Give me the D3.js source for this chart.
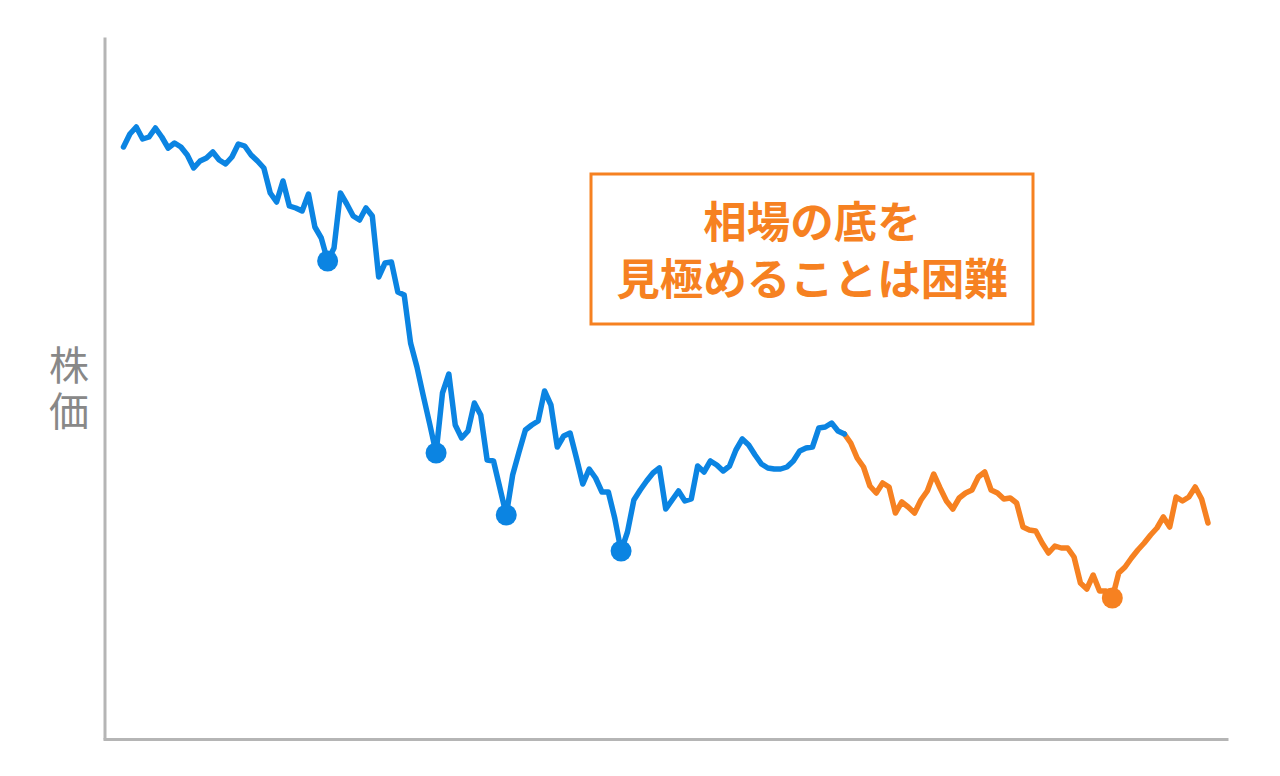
<!DOCTYPE html>
<html>
<head>
<meta charset="utf-8">
<script src="https://cdn.jsdelivr.net/npm/d3@7"></script>
<style>
  body { margin: 0; background: #fff; }
  svg { display: block; font-family: "Noto Sans CJK JP", "Noto Sans", sans-serif; }
</style>
</head>
<body>
<div id="chart"></div>
<script>
// stock price by trading day (arbitrary units)
var prices = [
  591, 604, 611, 599, 601, 610, 601, 590, 595, 591,
  583, 570, 577, 580, 586, 578, 574, 581, 594, 592,
  583, 577, 570, 545, 536, 557, 532, 530, 527, 544,
  511, 500, 477, 490, 545, 534, 522, 518, 530, 522,
  461, 475, 476, 446, 443, 395, 371, 342, 314, 285,
  345, 364, 313, 300, 307, 335, 323, 278, 277, 250,
  223, 263, 286, 308, 313, 317, 347, 333, 291, 302,
  305, 280, 254, 269, 260, 246, 246, 220, 187, 206,
  238, 248, 257, 265, 270, 229, 238, 247, 237, 239,
  272, 266, 277, 273, 267, 272, 288, 299, 293, 283,
  274, 270, 269, 269, 271, 277, 287, 290, 291, 310,
  311, 315, 307, 304, 295, 280, 271, 252, 245, 255,
  251, 225, 236, 231, 225, 238, 247, 264, 250, 237,
  229, 240, 245, 248, 261, 266, 248, 245, 239, 240,
  235, 211, 208, 207, 195, 185, 192, 190, 190, 181,
  155, 149, 163, 147, 147, 140, 165, 171, 180, 188,
  195, 203, 210, 221, 211, 241, 237, 241, 251, 239,
  215
];
// days where a "bottom" was marked
var pastBottoms = [32, 49, 60, 78];
var laterBottoms = [155];
// day where the past ends and the later part begins
var splitDay = 113;

var yLabel = "株価";
var noteLines = ["相場の底を", "見極めることは困難"];

var attrs = {
  width: 1280,
  height: 776,
  blue: "#0b84e2",
  orange: "#f68121",
  axisColor: "#b5b5b5",
  labelColor: "#888888",
  lineWidth: 5.5,
  dotRadius: 10.5
};

var data = prices.map(function(v, i) { return { day: i, price: v }; });

var svg = d3.select("#chart").append("svg")
  .attr("width", attrs.width)
  .attr("height", attrs.height);

var x = d3.scaleLinear().domain([0, prices.length - 1]).range([123.5, 1208]);
var y = d3.scaleLinear().domain([0, 700]).range([738, 38]);

// frame axes, no ticks
var xFrame = d3.scaleLinear().domain([0, 1]).range([103, 1228]);
var yFrame = d3.scaleLinear().domain([0, 1]).range([739, 37]);

svg.append("g")
  .attr("transform", "translate(0,739)")
  .call(d3.axisBottom(xFrame).tickValues([]).tickSizeOuter(0))
  .select(".domain")
  .attr("stroke", attrs.axisColor)
  .attr("stroke-width", 3);

svg.append("g")
  .attr("transform", "translate(104.5,0)")
  .call(d3.axisLeft(yFrame).tickValues([]).tickSizeOuter(0))
  .select(".domain")
  .attr("stroke", attrs.axisColor)
  .attr("stroke-width", 3);

// y label, written top to bottom
svg.append("text")
  .attr("x", 69)
  .attr("y", 391)
  .attr("text-anchor", "middle")
  .style("writing-mode", "vertical-rl")
  .style("letter-spacing", "6px")
  .attr("font-size", 40)
  .attr("fill", attrs.labelColor)
  .text(yLabel);

var line = d3.line()
  .x(function(d) { return x(d.day); })
  .y(function(d) { return y(d.price); });

svg.append("path")
  .datum(data.slice(splitDay))
  .attr("d", line)
  .attr("fill", "none")
  .attr("stroke", attrs.orange)
  .attr("stroke-width", attrs.lineWidth)
  .attr("stroke-linejoin", "round")
  .attr("stroke-linecap", "round");

svg.append("path")
  .datum(data.slice(0, splitDay + 1))
  .attr("d", line)
  .attr("fill", "none")
  .attr("stroke", attrs.blue)
  .attr("stroke-width", attrs.lineWidth)
  .attr("stroke-linejoin", "round")
  .attr("stroke-linecap", "round");

svg.append("g").selectAll("circle")
  .data(pastBottoms)
  .enter().append("circle")
  .attr("cx", function(d) { return x(d); })
  .attr("cy", function(d) { return y(prices[d]); })
  .attr("r", attrs.dotRadius)
  .attr("fill", attrs.blue);

svg.append("g").selectAll("circle")
  .data(laterBottoms)
  .enter().append("circle")
  .attr("cx", function(d) { return x(d); })
  .attr("cy", function(d) { return y(prices[d]); })
  .attr("r", attrs.dotRadius)
  .attr("fill", attrs.orange);

// note box
var note = svg.append("g");
note.append("rect")
  .attr("x", 591)
  .attr("y", 174)
  .attr("width", 442)
  .attr("height", 150)
  .attr("fill", "#fff")
  .attr("stroke", attrs.orange)
  .attr("stroke-width", 3);

note.selectAll("text")
  .data(noteLines)
  .enter().append("text")
  .attr("x", 812)
  .attr("y", function(d, i) { return 238 + i * 57; })
  .attr("text-anchor", "middle")
  .attr("font-size", 43.5)
  .attr("font-weight", "bold")
  .attr("fill", attrs.orange)
  .text(function(d) { return d; });
</script>
</body>
</html>
